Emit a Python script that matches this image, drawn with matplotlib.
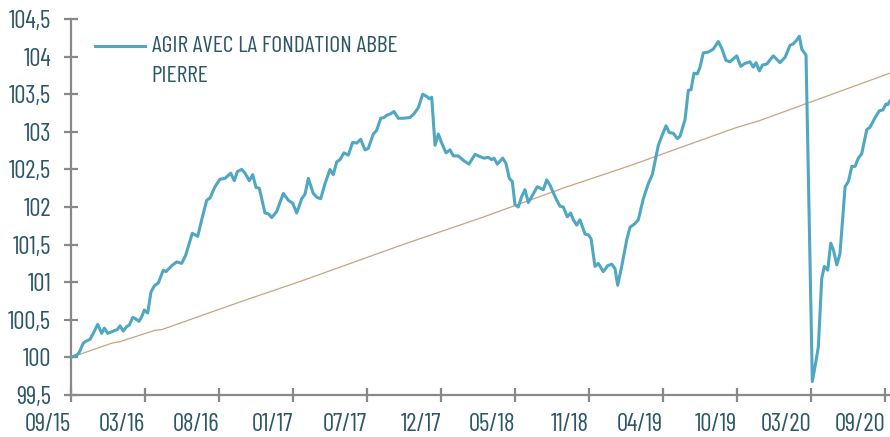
import matplotlib
matplotlib.use("Agg")
import matplotlib.pyplot as plt
import numpy as np
from matplotlib import font_manager

names = {f.name for f in font_manager.fontManager.ttflist}
fam = [n for n in ["Barlow Condensed", "Barlow Semi Condensed", "Roboto Condensed", "Saira Condensed",
                   "Liberation Sans Narrow", "DejaVu Sans"] if n in names]
plt.rcParams['font.family'] = fam

# Fund series (x in weeks since 09/15, y = index value)
fund_weeks = [0, 1.85, 2.59, 3.99, 5.09, 6.16, 7.23, 8.66, 9.96, 10.80, 11.90, 13.20, 14.27, 15.02, 15.89,
              16.96, 18.06, 18.91, 20.01, 20.76, 22.05, 22.93, 23.77, 24.87, 25.94, 27.01, 28.31, 29.93,
              30.81, 32.66, 34.28, 35.90, 37.20, 39.34, 41.09, 42.39, 44.01, 45.08, 46.70,
              48.32, 49.94, 51.79, 52.96, 53.93, 55.36, 56.43, 57.82, 58.93, 60.00, 61.07, 62.91, 63.98,
              65.09, 66.71, 68.85, 70.47, 71.90, 73.20, 74.82, 75.89, 76.96, 78.58, 79.68, 80.98, 82.37,
              83.99, 85.06, 86.17, 87.24, 88.53, 89.93, 91.35, 92.65, 93.95, 95.34, 96.41, 98.04, 99.14,
              100.44, 101.51, 102.38, 103.68, 104.75, 106.14, 107.76, 109.94, 111.23, 112.63, 114.06,
              115.36, 116.20, 116.98, 118.05, 119.12, 120.22, 121.61, 122.91, 123.98, 125.60, 127.22,
              129.07, 131.02, 132.64, 133.94, 135.33, 136.43, 137.18, 138.25, 140.00, 141.07, 142.14,
              143.11, 143.99, 145.06, 146.16, 147.23, 148.30, 149.73, 151.22, 153.17, 154.27, 155.34,
              157.29, 158.58, 159.65, 160.95, 162.05, 162.89, 163.99, 165.06, 166.69, 167.76, 168.64,
              169.93, 171.00, 172.62, 174.05, 175.35, 176.42, 177.29, 178.59, 180.21, 181.28, 182.91,
              183.98, 185.60, 187.22, 188.52, 189.72, 190.46, 191.57, 192.96, 194.03, 195.33, 196.62,
              197.50, 199.12, 200.19, 201.07, 202.04, 203.11, 203.99, 205.06, 206.68, 208.30, 209.92,
              211.03, 212.42, 213.72, 215.89, 217.19, 218.58, 220.20, 221.27, 222.15, 223.22, 224.32,
              225.62, 227.76, 229.93, 231.56, 233.18, 234.25, 235.35, 236.20, 236.98, 238.37, 240.41,
              241.29, 242.36, 243.46, 244.30, 245.41, 246.38, 247.25, 248.35, 249.38, 251.04, 252.11,
              253.21, 254.28, 255.35, 256.45, 258.07, 259.11, 260.78, 262.17, 263.28, 264.30, 264.85,
              265.60]
fund_values = [100.00, 100.03, 100.06, 100.19, 100.22, 100.24, 100.32, 100.44, 100.32, 100.39, 100.32,
               100.34, 100.36, 100.37, 100.42, 100.35, 100.41, 100.43, 100.53, 100.52, 100.48, 100.54,
               100.63, 100.59, 100.87, 100.95, 100.99, 101.16, 101.14, 101.22, 101.27, 101.25, 101.36,
               101.65, 101.61, 101.83, 102.09, 102.12, 102.27,
               102.37, 102.38, 102.45, 102.35, 102.47, 102.50, 102.45, 102.35, 102.43, 102.26, 102.25,
               101.92, 101.91, 101.86, 101.94, 102.18, 102.09, 102.05, 101.92, 102.11, 102.17, 102.38,
               102.18, 102.13, 102.11, 102.31, 102.50, 102.43, 102.60, 102.63, 102.72, 102.69, 102.86,
               102.85, 102.90, 102.76, 102.78, 102.97, 103.02, 103.18, 103.19, 103.22, 103.24, 103.27,
               103.18, 103.18, 103.19, 103.24, 103.32, 103.50, 103.47, 103.44, 103.46, 102.82, 102.97,
               102.85, 102.72, 102.76, 102.68, 102.68, 102.62, 102.57, 102.70, 102.67, 102.65, 102.66,
               102.63, 102.65, 102.57, 102.65, 102.58, 102.38, 102.34, 102.03, 102.00, 102.14, 102.23,
               102.06, 102.16, 102.27, 102.23, 102.36, 102.29, 102.11, 102.01, 102.00, 101.87, 101.92,
               101.83, 101.76, 101.83, 101.64, 101.63, 101.58, 101.21, 101.25, 101.14, 101.22, 101.24,
               101.18, 100.96, 101.21, 101.56, 101.73, 101.78, 101.83, 102.11, 102.31, 102.43, 102.67,
               102.82, 102.94, 103.08, 102.99, 102.98, 102.91, 102.94, 103.16, 103.55, 103.56, 103.78,
               103.77, 103.86, 104.05, 104.06, 104.10, 104.20, 104.11, 103.95, 103.93, 104.01, 103.87,
               103.91, 103.93, 103.86, 103.92, 103.81, 103.89, 103.90, 104.01, 103.92, 103.99, 104.15,
               104.17, 104.22, 104.27, 104.10, 104.02, 99.68, 99.88, 100.14, 101.05, 101.21, 101.16,
               101.52, 101.43, 101.23, 101.38, 102.27, 102.34, 102.54, 102.54, 102.65, 102.71, 103.03,
               103.06, 103.19, 103.28, 103.29, 103.37, 103.36, 103.41]

# Reference (beige) series
ref_weeks = [0, 13.3, 15.9, 27.2, 29.5, 46.7, 56.4, 74.3, 108.3, 132.6, 160.2, 181.3, 215.3, 223.4, 265.6]
ref_values = [100.00, 100.19, 100.21, 100.36, 100.37, 100.62, 100.76, 101.01, 101.51, 101.85,
              102.26, 102.55, 103.05, 103.15, 103.78]

tick_labels = ["09/15", "03/16", "08/16", "01/17", "07/17", "12/17", "05/18", "11/18",
               "04/19", "10/19", "03/20", "09/20"]
tick_step = 24
yticks = [99.5, 100, 100.5, 101, 101.5, 102, 102.5, 103, 103.5, 104, 104.5]

BLUE = "#4fa7c2"
BEIGE = "#c2a585"
TXT = "#2c5767"
GRAY = "#888888"
FS = 18

fig = plt.figure(figsize=(8.9, 4.37), dpi=100)
ax = fig.add_axes([71/890, 1-395/437, 1-71/890, (395-19)/437])

ax.plot(ref_weeks, ref_values, color=BEIGE, lw=0.9, zorder=2)
line, = ax.plot(fund_weeks, fund_values, color=BLUE, lw=2.2, zorder=3, solid_joinstyle='round')

ax.set_xlim(0, 265.6)
ax.set_ylim(99.5, 104.5)
for s in ["top", "right"]:
    ax.spines[s].set_visible(False)
for s in ["left", "bottom"]:
    ax.spines[s].set_color(GRAY)
    ax.spines[s].set_linewidth(1.6)

xt = [i * tick_step for i in range(len(tick_labels))]
ax.set_xticks(xt)
ax.set_xticklabels(tick_labels, ha='right')
ax.set_yticks(yticks)
ax.set_yticklabels([f"{v:g}".replace(".", ",") for v in yticks])
ax.tick_params(axis='both', direction='inout', length=10.5, width=1.6, color=GRAY,
               labelcolor=TXT, labelsize=FS)
ax.tick_params(axis='y', pad=9)
ax.tick_params(axis='x', pad=8)

leg = ax.legend([line], ["AGIR AVEC LA FONDATION ABBE\nPIERRE"], loc='upper left',
                bbox_to_anchor=(0.023, 0.968), frameon=False, fontsize=17,
                borderaxespad=0, borderpad=0.2,
                handlelength=2.15, handletextpad=0.27)
for t in leg.get_texts():
    t.set_color(TXT)
    t.set_linespacing(1.55)
h = leg.legend_handles[0]
h.set_ydata(np.asarray(h.get_ydata(), dtype=float) + 10.5)

fig.savefig("out.png", dpi=100)
